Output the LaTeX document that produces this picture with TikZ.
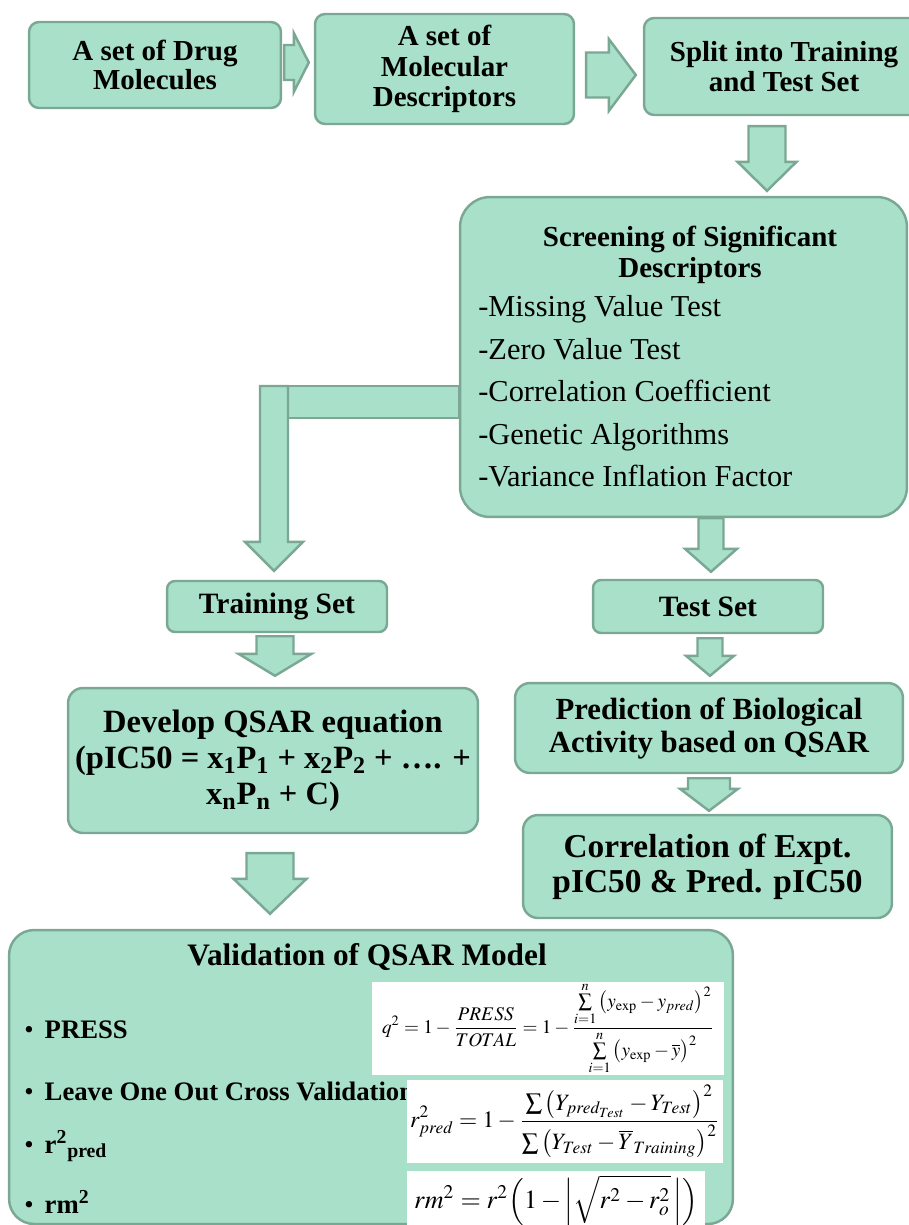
\documentclass[tikz,border=0pt]{standalone}
\usepackage{mathptmx}
\usepackage{graphicx}
\usepackage{fontspec}
\setmainfont{Liberation Serif}
\usetikzlibrary{calc}

\definecolor{mint}{RGB}{168,224,201}
\definecolor{mintline}{RGB}{122,168,148}

% block arrow pointing down: from, to, x, top gap, tip gap, shaft half width, head half width, head length
\newcommand{\blockdown}[8]{%
  \draw[blockarrow] ($(#1.south -| #3,0)+(-#6,#4)$) -- ($(#2.north -| #3,0)+(-#6,-#5-#8)$)
    -- ++(-#7+#6,0) -- ($(#2.north -| #3,0)+(0,-#5)$) -- ($(#2.north -| #3,0)+(#7,-#5-#8)$)
    -- ++(-#7+#6,0) -- ($(#1.south -| #3,0)+(#6,#4)$) -- cycle;}
% block arrow pointing right: from, to, y, tail gap, tip gap, shaft half width, head half width, head length
\newcommand{\blockright}[8]{%
  \draw[blockarrow] ($(#1.east |- 0,#3)+(#4,-#6)$) -- ($(#2.west |- 0,#3)+(-#5-#8,-#6)$)
    -- ++(0,-#7+#6) -- ($(#2.west |- 0,#3)+(-#5,0)$) -- ($(#2.west |- 0,#3)+(-#5-#8,#7)$)
    -- ++(0,-#7+#6) -- ($(#1.east |- 0,#3)+(#4,#6)$) -- cycle;}

\begin{document}
\begin{tikzpicture}[x=0.02cm, y=-0.02cm]
    \tikzstyle{box}=[rectangle, draw=mintline, fill=mint, line width=1.4pt, rounded corners=0.2cm, align=center, text=black, inner sep=0pt, font=\bfseries\fontsize{16.5}{17}\selectfont]
    \tikzstyle{blockarrow}=[draw=mintline, fill=mint, line width=1.4pt]
    \tikzstyle{formula}=[fill=white, inner sep=0pt]
    \tikzstyle{item}=[anchor=base west, inner sep=0pt, font=\fontsize{17.3}{18}\selectfont]
    \tikzstyle{bullet}=[anchor=base west, inner sep=0pt, font=\bfseries\fontsize{15.2}{16}\selectfont]

    \useasboundingbox (0,0) rectangle (909,1225);

    \node[box, minimum width=5.04cm, minimum height=1.72cm] (drug) at (155,65) {A set of Drug\\Molecules};
    \node[box, minimum width=5.18cm, minimum height=2.2cm, font=\bfseries\fontsize{16.5}{17.5}\selectfont] (descr) at (444.5,69) {A set of\\Molecular\\Descriptors};
    \node[box, minimum width=5.6cm, minimum height=1.94cm] (split) at (784,66.5) {Split into Training\\and Test Set};

    \node[box, rounded corners=0.6cm, minimum width=8.94cm, minimum height=6.4cm] (screen) at (683.5,357) {};
    \node[anchor=north, inner sep=0pt, align=center, font=\bfseries\fontsize{16.5}{17.6}\selectfont] (screenhead) at (690,226) {Screening of Significant\\Descriptors};
    \node[item] (missing) at (478,316) {-Missing Value Test};
    \node[item] (zero) at (478,359) {-Zero Value Test};
    \node[item] (corrcoef) at (478,401) {-Correlation Coefficient};
    \node[item] (genetic) at (478,444) {-Genetic Algorithms};
    \node[item] (vif) at (478,486) {-Variance Inflation Factor};

    \node[box, rounded corners=0.16cm, minimum width=4.4cm, minimum height=1.02cm, font=\bfseries\fontsize{16.8}{17}\selectfont] (training) at (277,606.5) {Training Set};
    \node[box, rounded corners=0.16cm, minimum width=4.6cm, minimum height=1.06cm, font=\bfseries\fontsize{16.8}{17}\selectfont] (test) at (708,606.5) {Test Set};
    \node[box, rounded corners=0.3cm, minimum width=8.2cm, minimum height=2.9cm, font=\bfseries\fontsize{18.5}{20.5}\selectfont] (develop) at (273,760.5) {Develop QSAR equation\\(pIC50 = x\textsubscript{1}P\textsubscript{1} + x\textsubscript{2}P\textsubscript{2} + \ldots. +\\x\textsubscript{n}P\textsubscript{n} + C)};
    \node[box, rounded corners=0.3cm, minimum width=7.76cm, minimum height=1.8cm, font=\bfseries\fontsize{17.5}{18.8}\selectfont] (pred) at (709,728) {Prediction of Biological\\Activity based on QSAR};
    \node[box, rounded corners=0.3cm, minimum width=7.38cm, minimum height=2.06cm, font=\bfseries\fontsize{19}{20}\selectfont] (corr) at (707.5,866.5) {Correlation of Expt.\\pIC50 \& Pred. pIC50};

    \node[box, rounded corners=0.5cm, minimum width=14.48cm, minimum height=5.88cm] (valid) at (371,1077) {};
    \node[anchor=base, inner sep=0pt, font=\bfseries\fontsize{17.8}{19}\selectfont] (validhead) at (367,965) {Validation of QSAR Model};
    \node[bullet] (press) at (24,1038) {\textmd{\textbullet}\hspace{0.22cm}PRESS};
    \node[bullet] (loo) at (24,1100) {\textmd{\textbullet}\hspace{0.22cm}Leave One Out Cross Validation};
    \node[bullet] (rpred) at (24,1153) {\textmd{\textbullet}\hspace{0.22cm}r\textsuperscript{2}\textsubscript{pred}};
    \node[bullet] (rm) at (24,1213) {\textmd{\textbullet}\hspace{0.22cm}rm\textsuperscript{2}};

    \node[formula, minimum width=7.04cm, minimum height=1.86cm] (qbox) at (548,1028.5) {\resizebox{6.64cm}{!}{$\displaystyle q^2 = 1 - \frac{PRESS}{TOTAL} = 1 - \frac{\sum\limits_{i=1}^{n}\left(y_{\mathrm{exp}} - y_{pred}\right)^2}{\sum\limits_{i=1}^{n}\left(y_{\mathrm{exp}} - \overline{y}\right)^2}$}};
    \node[formula, minimum width=6.32cm, minimum height=1.66cm] (rbox) at (565,1121.5) {\resizebox{6.2cm}{!}{$\displaystyle r^2_{pred} = 1 - \frac{\sum\left(Y_{pred_{Test}} - Y_{Test}\right)^2}{\sum\left(Y_{Test} - \overline{Y}_{Training}\right)^2}$}};
    \node[formula, minimum width=5.96cm, minimum height=1.18cm] (rmbox) at (556,1200.5) {\resizebox{5.68cm}{!}{$\displaystyle rm^2 = r^2\Bigl(1 - \Bigl|\sqrt{r^2 - r_o^2}\,\Bigr|\Bigr)$}};

    \blockright{drug}{descr}{62.5}{2}{5}{17.5}{29.5}{15}
    \blockright{descr}{split}{75}{11}{7}{22.5}{36}{27}
    \blockdown{split}{screen}{767}{10}{5}{18.5}{29.5}{29}
    \blockdown{screen}{test}{711}{0}{7}{12.5}{26}{23}
    \blockdown{test}{pred}{710}{4}{6}{12.5}{24}{20}
    \blockdown{pred}{corr}{709}{4}{3}{21}{29}{22}
    \blockdown{training}{develop}{275}{3}{11}{18.5}{36.5}{22}
    \blockdown{develop}{valid}{270}{19}{15}{23.5}{36.5}{35}

    \coordinate (bend) at (274,386);
    \draw[blockarrow] ($(bend)+(14,0)$) rectangle (screen.west |- 0,418);
    \draw[blockarrow] ($(bend)+(-14,0)$) -- ($(training.north -| bend)+(-14,-38)$) -- ++(-15,0) -- ($(training.north -| bend)+(0,-9)$) -- ($(training.north -| bend)+(29,-38)$) -- ++(-15,0) -- ($(bend)+(14,0)$) -- cycle;
\end{tikzpicture}
\end{document}
